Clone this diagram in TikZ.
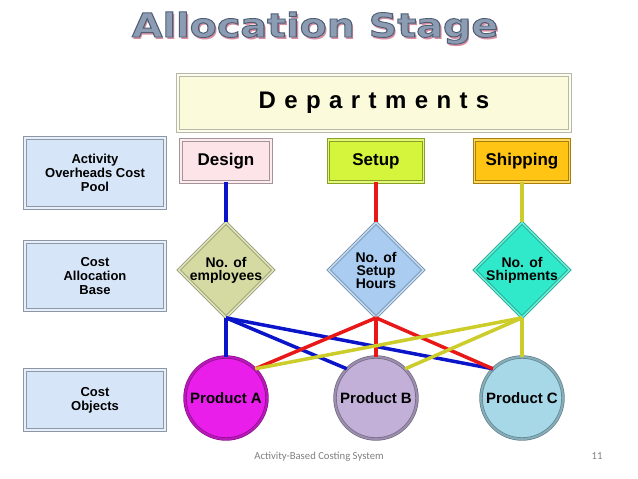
\documentclass[tikz,border=0pt]{standalone}
\usepackage{fontspec}
\setmainfont{Liberation Sans}
\newfontfamily\titlefamily{DejaVu Sans}
\newfontfamily\footfamily{Carlito}
\usetikzlibrary{shapes.geometric}
\definecolor{leftfill}{HTML}{D6E5F8}
\definecolor{leftdraw}{HTML}{8E98A4}
\definecolor{deptfill}{HTML}{FBFBDC}
\definecolor{deptdraw}{HTML}{B8B8A8}
\definecolor{designfill}{HTML}{FCE4E8}
\definecolor{setupfill}{HTML}{D4F53C}
\definecolor{shipfill}{HTML}{FFC414}
\definecolor{dAfill}{HTML}{D4DAA2}
\definecolor{dBfill}{HTML}{A9CCF0}
\definecolor{dCfill}{HTML}{30E8CA}
\definecolor{pAfill}{HTML}{EA1EEA}
\definecolor{pBfill}{HTML}{C2B0D8}
\definecolor{pCfill}{HTML}{A6D8E8}
\definecolor{lblue}{HTML}{0A14C8}
\definecolor{lred}{HTML}{E81818}
\definecolor{lyellow}{HTML}{CCCC2A}
\definecolor{titlemain}{HTML}{8C9CB2}
\definecolor{titlepink}{HTML}{D88CA0}
\definecolor{footgray}{HTML}{808080}
\newcommand{\titleword}{\scalebox{1.2}[1]{Allocation Stage}}
\newcommand{\outlineword}{\special{pdf:literal direct 2 Tr 0.9 w 0.306 0.369 0.463 RG}\titleword\special{pdf:literal direct 0 Tr}}
\begin{document}
\begin{tikzpicture}[x=1pt,y=-1pt,
  leftbox/.style={rectangle, draw=leftdraw, double=leftfill!60!white, double distance=1.8pt, fill=leftfill, line width=0.7pt, minimum width=140, inner sep=0, align=center, font=\fontsize{13}{14}\selectfont\bfseries},
  deptbox/.style={rectangle, draw=#1!65!black, double=#1!70!white, double distance=1.8pt, fill=#1, line width=0.7pt, minimum height=42, inner sep=0, font=\fontsize{17}{18}\selectfont\bfseries},
  basediamond/.style={diamond, draw=#1!65!black, double=#1!75!white, double distance=1.8pt, fill=#1, line width=0.7pt, minimum width=95, minimum height=95, inner sep=0},
  basetext/.style={align=center, inner sep=0, font=\fontsize{14}{13}\selectfont\bfseries},
  product/.style={circle, draw=#1!60!black, double=#1!80!black, double distance=2pt, fill=#1, line width=0.7pt, minimum size=82, inner sep=0, font=\fontsize{15}{16}\selectfont\bfseries},
  conn/.style={line width=3.5pt, draw=#1},
  titletext/.style={anchor=base, inner sep=0, font=\titlefamily\fontsize{33}{36}\selectfont\bfseries},
  foottext/.style={anchor=base, inner sep=0, text=footgray, font=\footfamily\fontsize{10.7}{12}\selectfont}
]
\fill[white] (0,0) rectangle (638,479);
\useasboundingbox (0,0) rectangle (638,479);

% title: pink drop shadow behind outlined metallic letters
\node[titletext, text=titlemain] (title) at (315,37)
  {\rlap{\kern2pt\raisebox{-2pt}{\color{titlepink}\titleword}}\outlineword};

% left column
\node[leftbox, minimum height=70] (lb1) at (95,173) {Activity\\Overheads Cost\\Pool};
\node[leftbox, minimum height=68] (lb2) at (95,276) {Cost\\Allocation\\Base};
\node[leftbox, minimum height=60] (lb3) at (95,400) {Cost\\Objects};

% departments
\node[rectangle, draw=deptdraw, double=deptfill!50!white, double distance=1.8pt, fill=deptfill, line width=0.7pt, minimum width=392, minimum height=56, inner sep=0,
      font=\fontsize{24}{26}\selectfont\bfseries] (dept) at (374,103)
  {\raisebox{-3pt}{D\hspace{.35em}e\hspace{.35em}p\hspace{.35em}a\hspace{.35em}r\hspace{.35em}t\hspace{.35em}m\hspace{.35em}e\hspace{.35em}n\hspace{.35em}t\hspace{.35em}s}};

\node[deptbox=designfill, minimum width=90] (design) at (226,161) {Design};
\node[deptbox=setupfill, minimum width=95] (setup) at (376,161) {Setup};
\node[deptbox=shipfill, minimum width=95] (ship) at (522,161) {Shipping};

% allocation bases
\node[basediamond=dAfill] (dA) at (226,270) {};
\node[basediamond=dBfill] (dB) at (376,270) {};
\node[basediamond=dCfill] (dC) at (522,270) {};
\node[basetext] (tA) at (dA) {No. of\\employees};
\node[basetext] (tB) at (dB) {No. of\\Setup\\Hours};
\node[basetext] (tC) at (dC) {No. of\\Shipments};

% products
\node[product=pAfill] (pA) at (226,398) {Product A};
\node[product=pBfill] (pB) at (376,398) {Product B};
\node[product=pCfill] (pC) at (522,398) {Product C};

% connectors
\draw[conn=lblue] (design.south) -- (dA.north);
\draw[conn=lred] (setup.south) -- (dB.north);
\draw[conn=lyellow] (ship.south) -- (dC.north);
\draw[conn=lblue] (dA.south) -- (pA.north);
\draw[conn=lblue] (dA.south) -- (pB.north west);
\draw[conn=lblue] (dA.south) -- (pC.north west);
\draw[conn=lred] (dB.south) -- (pA.north east);
\draw[conn=lred] (dB.south) -- (pB.north);
\draw[conn=lred] (dB.south) -- (pC.north west);
\draw[conn=lyellow] (dC.south) -- (pA.north east);
\draw[conn=lyellow] (dC.south) -- (pB.north east);
\draw[conn=lyellow] (dC.south) -- (pC.north);

% footer
\node[foottext] (foot) at (319,459) {Activity-Based Costing System};
\node[foottext] (pagenum) at (597,459) {11};
\end{tikzpicture}
\end{document}
